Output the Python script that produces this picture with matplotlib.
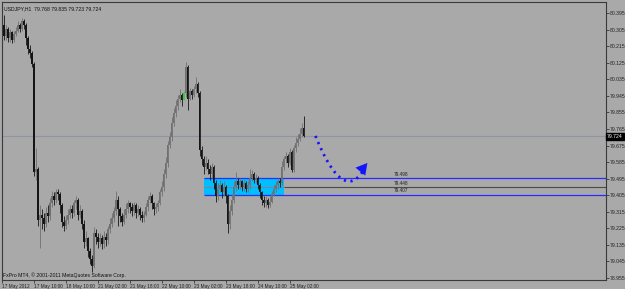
import matplotlib
matplotlib.use("Agg")
import matplotlib.pyplot as plt
import numpy as np

# ---------------- data ----------------
first_open = 80.33
closes = [80.27, 80.31, 80.26, 80.29, 80.25, 80.28, 80.30, 80.33, 80.31, 80.35,
          80.33, 80.26, 80.20, 80.18, 80.12, 79.53, 79.55, 79.27, 79.30, 79.28,
          79.25, 79.31, 79.29, 79.36, 79.40, 79.38, 79.42, 79.41, 79.35, 79.26,
          79.24, 79.27, 79.30, 79.33, 79.31, 79.36, 79.38, 79.30, 79.32, 79.25,
          79.15, 79.17, 79.10, 79.06, 79.02, 79.20, 79.18, 79.15, 79.17, 79.14,
          79.18, 79.16, 79.22, 79.25, 79.28, 79.32, 79.38, 79.33, 79.29, 79.26,
          79.30, 79.33, 79.36, 79.34, 79.32, 79.35, 79.31, 79.33, 79.30, 79.28,
          79.30, 79.34, 79.38, 79.40, 79.36, 79.33, 79.34, 79.36, 79.42, 79.45,
          79.52, 79.58, 79.68, 79.72, 79.80, 79.85, 79.89, 79.93, 79.95, 79.92,
          79.96, 80.10, 79.93, 79.97, 79.95, 79.98, 80.01, 79.96, 79.65, 79.60,
          79.56, 79.58, 79.55, 79.52, 79.56, 79.47, 79.40, 79.44, 79.46, 79.42,
          79.45, 79.40, 79.25, 79.32, 79.38, 79.45, 79.48, 79.46, 79.48, 79.45,
          79.47, 79.44, 79.46, 79.50, 79.52, 79.49, 79.50, 79.46, 79.42, 79.38,
          79.36, 79.38, 79.35, 79.37, 79.41, 79.44, 79.46, 79.48, 79.47, 79.56,
          79.60, 79.62, 79.58, 79.64, 79.54, 79.66, 79.69, 79.71, 79.74, 79.768,
          79.724]
highs = [80.384, 80.33, 80.32, 80.31, 80.30, 80.30, 80.32, 80.35, 80.34, 80.37,
         80.365, 80.34, 80.27, 80.22, 80.19, 80.13, 79.66, 79.56, 79.35, 79.33,
         79.31, 79.34, 79.35, 79.39, 79.43, 79.42, 79.44, 79.44, 79.42, 79.36,
         79.29, 79.30, 79.33, 79.35, 79.35, 79.38, 79.40, 79.39, 79.35, 79.33,
         79.27, 79.21, 79.18, 79.12, 79.08, 79.23, 79.22, 79.20, 79.20, 79.19,
         79.21, 79.20, 79.24, 79.28, 79.31, 79.34, 79.43, 79.40, 79.34, 79.31,
         79.33, 79.36, 79.38, 79.37, 79.36, 79.37, 79.36, 79.35, 79.34, 79.32,
         79.32, 79.36, 79.40, 79.42, 79.41, 79.37, 79.36, 79.38, 79.44, 79.48,
         79.55, 79.61, 79.70, 79.75, 79.83, 79.88, 79.92, 79.95, 79.98, 79.96,
         79.97, 80.13, 80.11, 79.99, 79.98, 80.00, 80.05, 80.02, 79.97, 79.67,
         79.62, 79.62, 79.60, 79.57, 79.58, 79.57, 79.49, 79.47, 79.49, 79.47,
         79.48, 79.46, 79.41, 79.35, 79.41, 79.48, 79.53, 79.50, 79.50, 79.49,
         79.49, 79.48, 79.48, 79.55, 79.54, 79.53, 79.52, 79.51, 79.47, 79.43,
         79.40, 79.40, 79.39, 79.40, 79.43, 79.46, 79.48, 79.50, 79.50, 79.59,
         79.62, 79.64, 79.63, 79.66, 79.65, 79.68, 79.72, 79.74, 79.77, 79.80,
         79.835]
lows = [80.25, 80.25, 80.24, 80.24, 80.23, 80.24, 80.27, 80.29, 80.29, 80.30,
        80.31, 80.22, 80.17, 80.15, 80.10, 79.51, 79.49, 79.24, 79.12, 79.22,
        79.21, 79.23, 79.26, 79.27, 79.34, 79.35, 79.36, 79.38, 79.31, 79.23,
        79.21, 79.22, 79.25, 79.28, 79.28, 79.29, 79.33, 79.27, 79.28, 79.22,
        79.12, 79.13, 79.07, 79.03, 78.99, 79.01, 79.14, 79.12, 79.13, 79.11,
        79.12, 79.13, 79.14, 79.20, 79.23, 79.26, 79.30, 79.24, 79.26, 79.24,
        79.25, 79.28, 79.31, 79.31, 79.29, 79.30, 79.28, 79.29, 79.27, 79.26,
        79.26, 79.29, 79.32, 79.36, 79.33, 79.30, 79.31, 79.32, 79.35, 79.40,
        79.43, 79.50, 79.56, 79.66, 79.70, 79.78, 79.83, 79.87, 79.91, 79.89,
        79.92, 79.94, 79.87, 79.92, 79.93, 79.94, 79.96, 79.94, 79.62, 79.57,
        79.52, 79.54, 79.52, 79.49, 79.50, 79.44, 79.37, 79.38, 79.42, 79.39,
        79.40, 79.36, 79.20, 79.22, 79.30, 79.36, 79.43, 79.44, 79.44, 79.43,
        79.43, 79.42, 79.42, 79.44, 79.48, 79.47, 79.47, 79.44, 79.39, 79.35,
        79.34, 79.34, 79.335, 79.34, 79.36, 79.40, 79.42, 79.44, 79.45, 79.46,
        79.54, 79.58, 79.56, 79.57, 79.53, 79.53, 79.64, 79.67, 79.70, 79.72,
        79.723]
green_bar = 90

xtick_bars = [-1, 15, 31, 47, 63, 79, 95, 111, 127, 143]
xtick_labels = ["17 May 2012", "17 May 10:00", "18 May 10:00", "21 May 02:00",
                "21 May 18:00", "22 May 10:00", "23 May 02:00", "23 May 18:00",
                "24 May 10:00", "25 May 02:00"]
ytick_values = [80.395, 80.305, 80.215, 80.125, 80.035, 79.945, 79.855, 79.765,
                79.675, 79.585, 79.495, 79.405, 79.315, 79.225, 79.135, 79.045,
                78.955]
bid = 79.724
zone_top, zone_mid, zone_bot = 79.498, 79.448, 79.407
zone_start, zone_end = 100, 140
label_bar = 199
arrow_pts = [(156, 79.727), (171, 79.324), (182, 79.580)]  # start, control, end
title_text = "USDJPY,H1  79.768 79.835 79.723 79.724"
copyright_text = "FxPro MT4, \u00a9 2001-2011 MetaQuotes Software Corp."

# ---------------- figure ----------------
BG = "#a9a9a9"
FONT = ["Liberation Sans Narrow", "Liberation Sans", "DejaVu Sans"]
plt.rcParams['font.family'] = FONT
FS = 3.7

fig = plt.figure(figsize=(6.25, 2.89), dpi=100, facecolor=BG)
ax = fig.add_axes([2/625, 9/289, 604/625, 278/289])
ax.set_facecolor(BG)
ax.set_xlim(-0.5, 301.5)
ax.set_ylim(78.944, 80.455)

n = len(closes)
opens = [first_open] + closes[:-1]

# zone rectangle (behind candles)
ax.add_patch(plt.Rectangle((zone_start, zone_bot), zone_end - zone_start,
                           zone_top - zone_bot, facecolor="#00bfff",
                           edgecolor="none", zorder=1))
ax.hlines([zone_top, zone_bot], zone_start, 301.5, colors="#2b2bff", lw=0.9, zorder=2)
ax.hlines([zone_mid], zone_end, 301.5, colors="#4a4a4a", lw=0.8, zorder=2)
ax.hlines([zone_mid], zone_start, zone_end, colors="#c06080", lw=0.5, zorder=2)
for v in (zone_top, zone_mid, zone_bot):
    ax.text(label_bar, v + 0.008, f"{v:.3f}", fontsize=3.4, ha="center",
            va="bottom", color="#202020", zorder=3)

# bid line
ax.axhline(bid, color="#8d96a0", lw=0.8, zorder=1.5)

# candles
for i in range(n):
    o, c, h, l = opens[i], closes[i], highs[i], lows[i]
    if i == green_bar:
        col = "#33cc33"
    elif c >= o:
        col = "#707070"
    else:
        col = "#151515"
    ax.vlines(i, l, h, colors=col, lw=0.6, zorder=4)
    ax.bar(i, max(abs(c - o), 0.004), bottom=min(o, c), width=0.75,
           color=col, edgecolor="none", zorder=4)

# dotted arrow (quadratic curve)
(x0, y0), (x1, y1), (x2, y2) = arrow_pts
t = np.linspace(0, 0.9, 40)
bx = (1 - t) ** 2 * x0 + 2 * (1 - t) * t * x1 + t ** 2 * x2
by = (1 - t) ** 2 * y0 + 2 * (1 - t) * t * y1 + t ** 2 * y2
ax.plot(bx, by, ls=(0, (0.8, 1.6)), lw=2.0, color="#1414ff", zorder=5,
        solid_capstyle="butt")
ax.annotate("", xy=(x2, y2), xytext=(bx[30], by[30]),
            arrowprops=dict(arrowstyle="-|>,head_length=0.8,head_width=0.45",
                            color="#1414ff", lw=0.01, shrinkA=0, shrinkB=0),
            zorder=6)

# texts
ax.text(0.004, 0.985, title_text, transform=ax.transAxes, fontsize=FS,
        va="top", ha="left", color="#101010")
ax.text(0.002, 0.008, copyright_text, transform=ax.transAxes, fontsize=FS,
        va="bottom", ha="left", color="#101010")

# axes styling
for s in ax.spines.values():
    s.set_color("#3a3a3a")
    s.set_linewidth(0.8)

ax.yaxis.tick_right()
ax.set_yticks(ytick_values)
ax.set_yticklabels([f"{v:.3f}" for v in ytick_values], fontsize=FS, color="#101010")
ax.tick_params(axis="y", length=2, width=0.5, pad=0.8, colors="#202020")

ax.set_xticks(xtick_bars)
ax.set_xticklabels(xtick_labels, fontsize=3.4, ha="left", color="#101010")
ax.tick_params(axis="x", length=2, width=0.5, pad=1.2, colors="#202020")

# bid label box
ax.text(1.002, bid, f"{bid:.3f}", transform=ax.get_yaxis_transform(),
        fontsize=FS, color="white", va="center", ha="left", zorder=10,
        bbox=dict(boxstyle="square,pad=0.2", fc="black", ec="black"),
        clip_on=False)

fig.savefig("out.png", dpi=100, facecolor=BG)
